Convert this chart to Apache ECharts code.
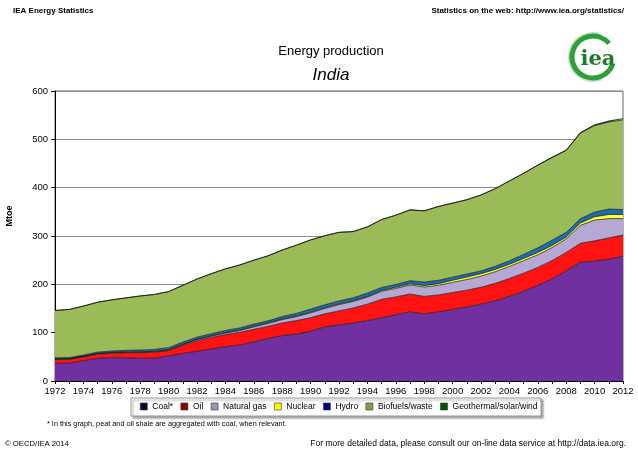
<!DOCTYPE html>
<html>
<head>
<meta charset="utf-8">
<script src="https://cdn.jsdelivr.net/npm/echarts@6/dist/echarts.min.js"></script>
<style>
html,body{margin:0;padding:0;background:#fff;}
#chart{width:638px;height:458px;}
</style>
</head>
<body>
<div id="chart"></div>
<script>
const years = ['1972','1973','1974','1975','1976','1977','1978','1979','1980','1981','1982','1983','1984','1985','1986','1987','1988','1989','1990','1991','1992','1993','1994','1995','1996','1997','1998','1999','2000','2001','2002','2003','2004','2005','2006','2007','2008','2009','2010','2011','2012'];

const coal = [36.6,37,42,47,48.5,48,47,47,52,57,61.5,66,71,74.5,81,88,94,97,103,112,116,120,125,131,137,143,139,143,148,153,159,166,175,186,198,211,228,246,248,252,258];
const oil = [8,8,8,8.5,9,10.5,11.5,12.5,11,17,22,24,25,26,26,25,26,28,28,27,29,31,34,38,37,37,36,35,35,35,35,36,37,37,37,38,38,39,42,44,44];
const naturalGas = [0.6,0.6,0.7,0.8,0.9,1.0,1.1,1.2,1.2,1.5,2.2,2.6,3.2,3.8,4.8,6.0,7.0,8.2,10,11,13,13.5,14.5,16.5,17.5,18.5,19.5,20,21,22,23,24,25,26,26,27,28,37,43,40,34];
const nuclear = [0.6,0.6,0.6,0.7,0.8,0.8,0.7,0.8,0.8,0.8,0.8,0.9,1.0,1.1,1.3,1.3,1.5,1.3,1.6,1.4,1.6,1.5,1.4,2.0,2.3,2.6,3.1,3.4,4.4,5.0,5.0,4.8,4.4,4.5,4.9,4.4,3.8,4.8,6.8,8.5,8.6];
const hydro = [2.2,2.3,2.4,2.8,2.9,3.2,3.6,3.9,4.0,4.2,4.1,4.3,4.5,4.3,4.6,4.1,4.9,5.3,6.2,6.2,6.0,6.1,7.0,6.1,5.8,6.3,7.1,6.9,6.4,6.3,5.7,6.4,7.3,8.4,9.7,10.7,9.8,9.2,9.5,11.2,10.0];
const biofuels = [98,99.5,101.3,103.2,105.9,108.5,112.1,113.6,116,117.5,120.4,124.2,127.3,130.3,132.3,134.6,137.6,141.2,143.2,143,142,137,137.1,140.4,143.4,146.6,147.3,152.7,153.2,153.7,157.1,160.6,165.1,167.6,170.8,171,169.4,176.9,179.3,180.2,185.8];
const geoSolarWind = [0,0,0,0,0,0,0,0,0,0,0,0,0,0,0,0,0,0,0,0,0,0,0,0.1,0.1,0.1,0.1,0.1,0.1,0.1,0.2,0.2,0.2,0.5,0.6,0.9,1.0,1.1,1.4,2.1,2.6];

const yTicks = [0,100,200,300,400,500,600];

const seriesDefs = [
  {name:'Coal*', data:coal, color:'#7030A0', legend:'#0a0a30'},
  {name:'Oil', data:oil, color:'#FF1212', legend:'#990000'},
  {name:'Natural gas', data:naturalGas, color:'#B5A8D2', legend:'#9a98b8'},
  {name:'Nuclear', data:nuclear, color:'#FFFF33', legend:'#FFFF00'},
  {name:'Hydro', data:hydro, color:'#1B6CB0', legend:'#000080'},
  {name:'Biofuels/waste', data:biofuels, color:'#9BBB59', legend:'#7fa040'},
  {name:'Geothermal/solar/wind', data:geoSolarWind, color:'#006400', legend:'#005500'}
];

const FONT = 'Liberation Sans, Arial, sans-serif';
const chart = echarts.init(document.getElementById('chart'), null, {renderer:'canvas'});

const option = {
  animation: false,
  backgroundColor: '#fff',
  textStyle: {fontFamily: FONT},
  grid: {left:55, right:15, top:91, bottom:77, show:true, borderColor:'#666', borderWidth:1, backgroundColor:'transparent'},
  xAxis: {
    type:'category', data: years, boundaryGap:false,
    axisLine:{lineStyle:{color:'#000', width:1}},
    axisTick:{show:true, interval:0, length:3, lineStyle:{color:'#000'}},
    axisLabel:{interval:1, color:'#000', fontSize:9.5, fontFamily:FONT, margin:5},
    splitLine:{show:false}
  },
  yAxis: {
    type:'value', min:yTicks[0], max:yTicks[yTicks.length-1], interval:100,
    axisLine:{show:true, lineStyle:{color:'#000', width:1}},
    axisTick:{show:true, length:4, lineStyle:{color:'#000'}},
    axisLabel:{color:'#000', fontSize:9.5, fontFamily:FONT, margin:7},
    splitLine:{show:true, lineStyle:{color:'#888', width:1}}
  },
  legend: {
    left:140, top:402, padding:0, itemGap:7.5, itemWidth:7, itemHeight:7, icon:'rect', z:10,
    textStyle:{fontSize:8.5, color:'#000', fontFamily:FONT},
    data: seriesDefs.map(s => ({name:s.name, itemStyle:{color:s.legend, borderColor:'#333', borderWidth:0.6}}))
  },
  series: seriesDefs.map(s => ({
    name:s.name, type:'line', stack:'total', data:s.data, symbol:'none', smooth:false,
    lineStyle:{color:'#111', width:0.7},
    areaStyle:{color:s.color, opacity:1},
    itemStyle:{color:s.legend},
    emphasis:{disabled:true}
  })),
  graphic: [
    {type:'rect', z:-1, shape:{x:131, y:398, width:410, height:18}, style:{fill:'#fff', stroke:'#999', lineWidth:1, shadowColor:'rgba(0,0,0,0.35)', shadowOffsetX:2, shadowOffsetY:2, shadowBlur:2}},
    {type:'text', left:13, top:7, style:{text:'IEA Energy Statistics', font:'bold 8px '+FONT, fill:'#000'}},
    {type:'text', right:14, top:7, style:{text:'Statistics on the web: http://www.iea.org/statistics/', font:'bold 8px '+FONT, fill:'#000'}},
    {type:'text', x:331, y:51, style:{text:'Energy production', font:'13px '+FONT, fill:'#000', textAlign:'center', textVerticalAlign:'middle'}},
    {type:'text', x:331, y:75, style:{text:'India', font:'italic 17px '+FONT, fill:'#000', textAlign:'center', textVerticalAlign:'middle'}},
    {type:'text', x:10, y:216, rotation:Math.PI/2, style:{text:'Mtoe', font:'bold 9px '+FONT, fill:'#000', textAlign:'center', textVerticalAlign:'middle'}},
    {type:'text', left:47, top:420, style:{text:'* In this graph, peat and oil shale are aggregated with coal, when relevant.', font:'7.3px '+FONT, fill:'#000'}},
    {type:'text', left:5, top:440, style:{text:'\u00A9 OECD/IEA 2014', font:'7.7px '+FONT, fill:'#000'}},
    {type:'text', right:12, top:439, style:{text:'For more detailed data, please consult our on-line data service at http://data.iea.org.', font:'8.5px '+FONT, fill:'#000'}},
    {type:'arc', shape:{cx:593, cy:57, r:21, startAngle:0.35, endAngle:Math.PI*2-0.7, clockwise:true}, style:{stroke:'#2E9E3A', lineWidth:5, fill:null}},
    {type:'arc', shape:{cx:593, cy:57, r:24, startAngle:1.2, endAngle:Math.PI*1.6, clockwise:true}, style:{stroke:'rgba(60,170,70,0.35)', lineWidth:2, fill:null}},
    {type:'text', x:598, y:60, style:{text:'iea', font:'bold 21px "DejaVu Serif", "Liberation Serif", serif', fill:'#1F7A2A', textAlign:'center', textVerticalAlign:'middle'}}
  ]
};
chart.setOption(option);
</script>
</body>
</html>
